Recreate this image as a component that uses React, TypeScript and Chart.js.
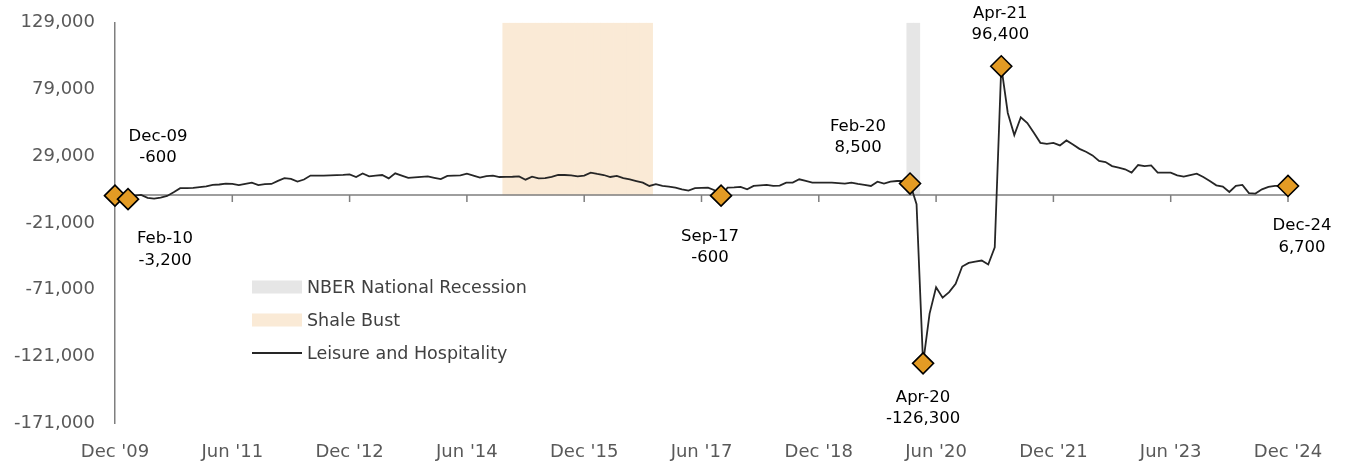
import React, { useEffect, useRef } from "react";
import { Chart, registerables } from "chart.js";

Chart.register(...registerables);

// ---------- data ----------
const MONTH_NAMES = ["Jan", "Feb", "Mar", "Apr", "May", "Jun", "Jul", "Aug", "Sep", "Oct", "Nov", "Dec"];
const START_YEAR = 2009;
const START_MONTH = 11; // December
const N_MONTHS = 181;

const categories: string[] = Array.from({ length: N_MONTHS }, (_, i) => {
  const m = (START_MONTH + i) % 12;
  const y = START_YEAR + Math.floor((START_MONTH + i) / 12);
  return `${MONTH_NAMES[m]}-${String(y % 100).padStart(2, "0")}`;
});

const tickLabels = ["Dec '09", "Jun '11", "Dec '12", "Jun '14", "Dec '15", "Jun '17", "Dec '18", "Jun '20", "Dec '21", "Jun '23", "Dec '24"];
const TICK_EVERY = 18;

const yTicks = [-171000, -121000, -71000, -21000, 29000, 79000, 129000];

// Leisure and Hospitality, year-over-year change (Dec-09 .. Dec-24)
const leisureHospitality = [
  -600, -1500, -3200, -500, 0, -2200, -2800, -2000, -800, 2000, 5000, 5000, 5200, // Dec-09..Dec-10
  5800, 6300, 7500, 7800, 8500, 8200, 7300, 8300, 9200, 7300, 8000, 8200, // 2011
  10500, 12500, 12000, 10000, 11500, 14500, 14500, 14500, 14600, 14800, 15000, 15400, // 2012
  13400, 16000, 13900, 14400, 14900, 12400, 16200, 14500, 12800, 13200, 13500, 13900, // 2013
  12800, 11800, 14200, 14400, 14700, 15900, 14500, 12900, 14000, 14400, 13400, 13500, // 2014
  13600, 13900, 11400, 13600, 12400, 12500, 13500, 14900, 14900, 14700, 13900, 14500, // 2015
  16700, 15700, 14900, 13400, 14200, 12500, 11700, 10400, 9200, 6700, 8000, 6700, // 2016
  6200, 5500, 4200, 3200, 5000, 5200, 5400, 3500, -600, 5400, 5600, 6000, // 2017
  4200, 6700, 7200, 7500, 6700, 7000, 9200, 9200, 11700, 10500, 9200, 9200, // 2018
  9200, 9200, 8800, 8400, 9200, 8200, 7500, 6700, 9900, 8400, 9900, 10400, // 2019
  10400, 8500, -7000, -126300, -89000, -69200, -77100, -72900, -66600, -53700, -51000, -50000, // 2020
  -49200, -52200, -39300, 96400, 61400, 44800, 58200, 53900, 46500, 39000, 38300, 39000, // 2021
  37100, 40800, 37800, 34500, 32300, 29600, 25400, 24600, 21600, 20400, 19200, 16700, // 2022
  22400, 21600, 22100, 16700, 16700, 16700, 14700, 13700, 14900, 15900, 13400, 10400, // 2023
  7200, 6200, 2200, 6700, 7500, 1300, 1000, 4200, 6000, 6700, 6700, 6700, // 2024
];

const markerMonths = ["Dec-09", "Feb-10", "Sep-17", "Feb-20", "Apr-20", "Apr-21", "Dec-24"];
const recessionMonths = ["Feb-20", "Mar-20"];
const shaleBustStart = "Dec-14";
const shaleBustEnd = "Oct-16";

const Y_MIN = -171000;
const Y_MAX = 129000;

// ---------- derived ----------
const markerIdx = markerMonths.map((m) => categories.indexOf(m));
const recessionIdx = recessionMonths.map((m) => categories.indexOf(m));
const shaleStartIdx = categories.indexOf(shaleBustStart);
const shaleEndIdx = categories.indexOf(shaleBustEnd);

const recessionData = categories.map((_, i) => (recessionIdx.includes(i) ? Y_MAX : null));
const shaleData = categories.map((_, i) => (i >= shaleStartIdx && i <= shaleEndIdx ? Y_MAX : null));
const markerData = categories.map((_, i) => (markerIdx.includes(i) ? leisureHospitality[i] : null));

// label placement (pixels relative to marker)
const labelOffsets = [
  { dx: 43, dy: -59 },
  { dx: 37, dy: 40 },
  { dx: -11, dy: 41 },
  { dx: -52, dy: -57 },
  { dx: 0, dy: 34 },
  { dx: -1, dy: -53 },
  { dx: 14, dy: 40 },
];

const FONT = "'DejaVu Sans', sans-serif";
const AXIS_GRAY = "#7f7f7f";

const zeroAxisPlugin = {
  id: "zeroAxis",
  beforeDatasetDraw(chart: any, args: any) {
    if (args.index !== 2) return;
    const { ctx, chartArea, scales } = chart;
    const y0 = scales.y.getPixelForValue(0);
    ctx.save();
    ctx.strokeStyle = AXIS_GRAY;
    ctx.lineWidth = 1.5;
    ctx.beginPath();
    ctx.moveTo(chartArea.left, y0);
    ctx.lineTo(chartArea.right, y0);
    for (let i = TICK_EVERY; i < N_MONTHS; i += TICK_EVERY) {
      const x = scales.x.getPixelForValue(i);
      ctx.moveTo(x, y0);
      ctx.lineTo(x, y0 + 7);
    }
    ctx.stroke();
    ctx.restore();
  },
};

const annotationPlugin = {
  id: "markerLabels",
  afterDatasetsDraw(chart: any) {
    const { ctx } = chart;
    const meta = chart.getDatasetMeta(3);
    ctx.save();
    ctx.font = `16.5px ${FONT}`;
    ctx.fillStyle = "#000000";
    ctx.textAlign = "center";
    ctx.textBaseline = "middle";
    markerIdx.forEach((idx, k) => {
      const pt = meta.data[idx];
      if (!pt) return;
      const off = labelOffsets[k];
      const x = pt.x + off.dx;
      const y = pt.y + off.dy;
      ctx.fillText(categories[idx], x, y);
      ctx.fillText(leisureHospitality[idx].toLocaleString("en-US"), x, y + 21.5);
    });
    ctx.restore();
  },
};

const legendPlugin = {
  id: "customLegend",
  afterDraw(chart: any) {
    const { ctx } = chart;
    const ds = chart.data.datasets;
    const left = 252;
    const top = 287;
    const gap = 33;
    const boxW = 50;
    ctx.save();
    ctx.font = `17.5px ${FONT}`;
    ctx.textBaseline = "middle";
    ctx.textAlign = "left";
    const items = [ds[0], ds[1], ds[2]];
    items.forEach((d: any, k: number) => {
      const cy = top + k * gap;
      if (d.type === "bar") {
        ctx.fillStyle = d.backgroundColor;
        ctx.fillRect(left, cy - 6.5, boxW, 13);
      } else {
        ctx.strokeStyle = d.borderColor;
        ctx.lineWidth = 1.8;
        ctx.beginPath();
        ctx.moveTo(left, cy);
        ctx.lineTo(left + boxW, cy);
        ctx.stroke();
      }
      ctx.fillStyle = "#404040";
      ctx.fillText(d.label, left + boxW + 5, cy + 1);
    });
    ctx.restore();
  },
};

export default function App() {
  const canvasRef = useRef<HTMLCanvasElement | null>(null);

  useEffect(() => {
    if (!canvasRef.current) return;
    const chart = new Chart(canvasRef.current, {
      type: "line",
      data: {
        labels: categories,
        datasets: [
          {
            type: "bar",
            label: "NBER National Recession",
            data: recessionData,
            backgroundColor: "#E6E6E6",
            borderWidth: 0,
            barPercentage: 1,
            categoryPercentage: 1,
            grouped: false,
            order: 3,
          } as any,
          {
            type: "bar",
            label: "Shale Bust",
            data: shaleData,
            backgroundColor: "#FAEAD6",
            borderWidth: 0,
            barPercentage: 1,
            categoryPercentage: 1,
            grouped: false,
            order: 2,
          } as any,
          {
            type: "line",
            label: "Leisure and Hospitality",
            data: leisureHospitality,
            borderColor: "#262626",
            borderWidth: 1.8,
            pointRadius: 0,
            tension: 0,
            order: 1,
          },
          {
            type: "line",
            label: "markers",
            data: markerData,
            showLine: false,
            pointStyle: "rectRot",
            pointRadius: 10.5,
            pointBackgroundColor: "#E39B24",
            pointBorderColor: "#000000",
            pointBorderWidth: 1.6,
            order: 0,
          },
        ],
      },
      options: {
        animation: false,
        responsive: true,
        maintainAspectRatio: false,
        layout: { padding: { top: 9, right: 60, left: 0, bottom: 0 } },
        plugins: {
          legend: { display: false },
          tooltip: { enabled: false },
          title: { display: false },
        },
        scales: {
          x: {
            type: "category",
            offset: false,
            grid: { display: false, offset: false },
            border: { display: false },
            ticks: {
              autoSkip: false,
              maxRotation: 0,
              minRotation: 0,
              padding: 11,
              color: "#595959",
              font: { family: FONT, size: 18 },
              callback: (value: any) => tickLabels[Math.round(Number(value) / TICK_EVERY)],
            },
            afterBuildTicks: (scale: any) => {
              scale.ticks = scale.ticks.filter((t: any) => t.value % TICK_EVERY === 0);
            },
            afterFit: (scale: any) => {
              scale.height = 39;
            },
          },
          y: {
            type: "linear",
            min: Y_MIN,
            max: Y_MAX,
            grid: { display: false },
            border: { display: true, color: AXIS_GRAY, width: 1.5 },
            ticks: {
              padding: 12,
              color: "#595959",
              font: { family: FONT, size: 18 },
              callback: (value: any) => Number(value).toLocaleString("en-US"),
            },
            afterBuildTicks: (scale: any) => {
              scale.ticks = yTicks.map((v) => ({ value: v }));
            },
            afterFit: (scale: any) => {
              scale.width = 115;
            },
          },
        },
      },
      plugins: [zeroAxisPlugin, annotationPlugin, legendPlugin],
    });
    return () => chart.destroy();
  }, []);

  return (
    <div style={{ position: "fixed", left: 0, top: 0, width: 1348, height: 462, background: "#ffffff" }}>
      <canvas ref={canvasRef} />
    </div>
  );
}
